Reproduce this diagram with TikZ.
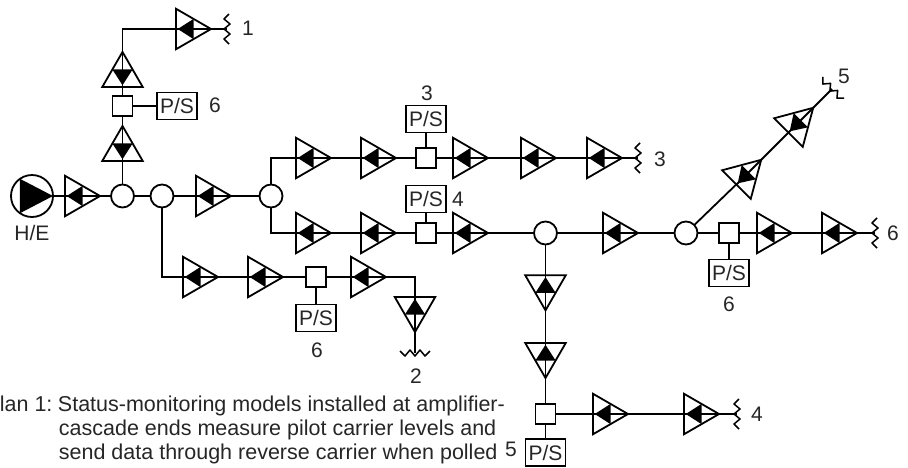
\documentclass[tikz,border=0pt]{standalone}
\usepackage{xcolor}
\usepackage{fontspec}
\setmainfont{Liberation Sans}
\usetikzlibrary{positioning,calc,shapes.geometric}

\begin{document}
\begin{tikzpicture}[
  x=1pt, y=-1pt,
  line width=1.8pt,
  amp/.style={draw, regular polygon, regular polygon sides=3, shape border rotate=#1,
              minimum size=46.7pt, inner sep=0pt, outer sep=0pt,
              append after command={\pgfextra{
                \draw (\tikzlastnode.side 2) -- (\tikzlastnode.corner 1);
                \fill (\tikzlastnode.side 1) -- (\tikzlastnode.side 3)
                      -- ($(\tikzlastnode.side 2)!0.05!(\tikzlastnode.corner 1)$) -- cycle;}}},
  split/.style={draw, circle, minimum size=23pt, inner sep=0pt, outer sep=0pt},
  headend/.style={draw, circle, minimum size=42pt, inner sep=0pt, outer sep=0pt,
              append after command={\pgfextra{
                \fill (\tikzlastnode.0) -- (\tikzlastnode.125) -- (\tikzlastnode.235) -- cycle;}}},
  probe/.style={draw, rectangle, minimum size=20pt, inner sep=0pt, outer sep=0pt},
  psbox/.style={draw, rectangle, minimum width=40pt, minimum height=27pt, inner sep=0pt,
                outer sep=0pt, font=\fontsize{21}{21}\selectfont, text=black!85},
  num/.style={font=\fontsize{21}{21}\selectfont, text=black!85, inner sep=0pt},
  tapoff/.pic={\draw[line width=1.5pt, line join=round] (2,-15) -- (-3,-10) -- (3,-5) -- (-3,0)
                -- (3,5) -- (-3,10) -- (2,15);}
]
\useasboundingbox (0,0) rectangle (908,467);

% head end and first trunk
\node[headend] (he) at (32,196) {};
\node[num] (heL) at (32,233) {H/E};
\node[amp=-90] (a1) at (76.7,196) {};
\node[split] (s1) at (122.5,196) {};
\node[split] (s2) at (162,196) {};
\node[amp=-90] (a2) at (207.7,196) {};
\node[split] (s3) at (271,196) {};

% branch to 1
\node[amp=0] (b1) at (122.5,149.3) {};
\node[probe] (bp) at (122.5,106) {};
\node[psbox] (bps) at (177,106) {P/S};
\node[num] (bn) at (215,105) {6};
\node[amp=0] (b2) at (122.5,75.3) {};
\node[amp=-90] (b3) at (187.7,29) {};
\coordinate (t1) at (227,29);
\node[num] (t1L) at (248,28) {1};

% branch to 2
\node[amp=-90] (c1) at (194.7,277) {};
\node[amp=-90] (c2) at (259.7,277) {};
\node[probe] (cp) at (316,277) {};
\node[psbox] (cps) at (316,318) {P/S};
\node[num] (cn) at (317,350) {6};
\node[amp=-90] (c3) at (362.7,277) {};
\node[amp=180] (c4) at (415,308.7) {};
\coordinate (t2) at (415,353);
\node[num] (t2L) at (416,376) {2};

% branch to 3
\node[amp=-90] (d1) at (307.7,158) {};
\node[amp=-90] (d2) at (372.7,158) {};
\node[probe] (dp) at (426,158) {};
\node[psbox] (dps) at (426,119) {P/S};
\node[num] (dn) at (427,93) {3};
\node[amp=-90] (d3) at (464.7,158) {};
\node[amp=-90] (d4) at (532.7,158) {};
\node[amp=-90] (d5) at (598.7,158) {};
\coordinate (t3) at (638,158);
\node[num] (t3L) at (660,159) {3};

% lower trunk
\node[amp=-90] (e1) at (307.7,233) {};
\node[amp=-90] (e2) at (372.7,233) {};
\node[probe] (ep) at (426,233) {};
\node[psbox] (eps) at (426,199) {P/S};
\node[num] (en) at (458,199) {4};
\node[amp=-90] (e3) at (464.7,233) {};
\node[split] (s4) at (545.5,233) {};
\node[amp=-90] (e4) at (614.7,233) {};
\node[split] (s5) at (686,233) {};
\node[probe] (fp) at (729,233) {};
\node[psbox] (fps) at (729,273) {P/S};
\node[num] (fn) at (729,304) {6};
\node[amp=-90] (f1) at (768.7,233) {};
\node[amp=-90] (f2) at (833.7,233) {};
\coordinate (t6) at (875,233);
\node[num] (t6L) at (893,233) {6};

% diagonal to 5
\node[amp=-45] (g1) at (744.7,176.3) {};
\node[amp=-45] (g2) at (796.7,124.3) {};
\coordinate (t5) at (832,89);
\node[num] (t5L) at (844,76) {5};

% down to 4
\node[amp=180] (h1) at (545.5,287) {};
\node[amp=180] (h2) at (545.5,354.7) {};
\node[probe] (hp) at (545.5,414) {};
\node[psbox] (hps) at (545.5,452.5) {P/S};
\node[num] (hn) at (511,449) {5};
\node[amp=-90] (h3) at (604.7,414) {};
\node[amp=-90] (h4) at (695.7,414) {};
\coordinate (t4) at (737,414);
\node[num] (t4L) at (757,414) {4};

% plan caption
\node[font=\fontsize{21.5}{24}\selectfont, text=black!85, align=left, inner sep=0pt, anchor=north west] (cap) at (-1,395.5)
  {lan 1:\hspace{5.5pt}Status-monitoring models installed at amplifier-\\
   \hspace*{59pt}cascade ends measure pilot carrier levels and\\
   \hspace*{59pt}send data through reverse carrier when polled};

\draw (he) -- (a1);
\draw (a1) -- (s1);
\draw (s1) -- (s2);
\draw (s2) -- (a2);
\draw (a2) -- (s3);
\draw (s1) -- (b1);
\draw (b1) -- (bp);
\draw (bp) -- (b2);
\draw (bp) -- (bps);
\draw (b2) |- (b3);
\draw (b3) -- (t1);
\draw (s2) |- (c1);
\draw (c1) -- (c2);
\draw (c2) -- (cp);
\draw (cp) -- (c3);
\draw (cp) -- (cps);
\draw (c3) -| (c4);
\draw (c4) -- (t2);
\draw (s3) |- (d1);
\draw (d1) -- (d2);
\draw (d2) -- (dp);
\draw (dp) -- (d3);
\draw (dp) -- (dps);
\draw (d3) -- (d4);
\draw (d4) -- (d5);
\draw (d5) -- (t3);
\draw (s3) |- (e1);
\draw (e1) -- (e2);
\draw (e2) -- (ep);
\draw (ep) -- (e3);
\draw (ep) -- (eps);
\draw (e3) -- (s4);
\draw (s4) -- (e4);
\draw (e4) -- (s5);
\draw (s5) -- (fp);
\draw (fp) -- (f1);
\draw (fp) -- (fps);
\draw (f1) -- (f2);
\draw (f2) -- (t6);
\draw (s5) -- (g1);
\draw (g1) -- (g2);
\draw (g2) -- (t5);
\draw (s4) -- (h1);
\draw (h1) -- (h2);
\draw (h2) -- (hp);
\draw (hp) -- (hps);
\draw (hp) -- (h3);
\draw (h3) -- (h4);
\draw (h4) -- (t4);

\pic at (t1) {tapoff};
\pic[rotate=90] at (t2) {tapoff};
\pic at (t3) {tapoff};
\pic at (t4) {tapoff};
\pic[rotate=45] at (t5) {tapoff};
\pic at (t6) {tapoff};

\end{tikzpicture}
\end{document}
